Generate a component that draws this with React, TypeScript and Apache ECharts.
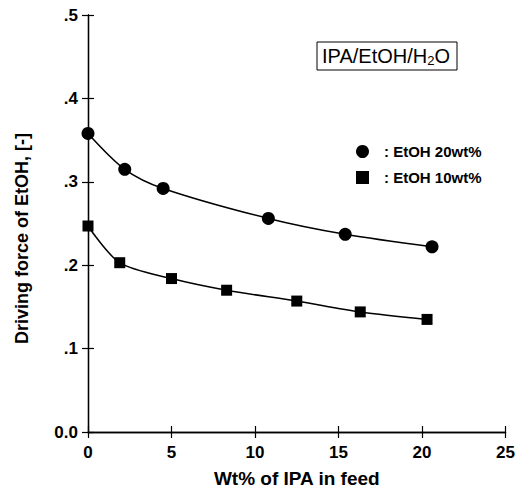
import React, { useEffect, useRef } from "react";
import * as echarts from "echarts";

const ipa20 = [0, 2.2, 4.5, 10.8, 15.4, 20.6];
const force20 = [0.358, 0.315, 0.292, 0.256, 0.237, 0.222];
const ipa10 = [0, 1.9, 5.0, 8.3, 12.5, 16.3, 20.3];
const force10 = [0.247, 0.203, 0.184, 0.17, 0.157, 0.144, 0.135];
const seriesNames = ["EtOH 20wt%", "EtOH 10wt%"];
const yTickLabels: Record<string, string> = { "0": "0.0", "0.1": ".1", "0.2": ".2", "0.3": ".3", "0.4": ".4", "0.5": ".5" };

const FONT = "'Liberation Sans', Arial, sans-serif";
const NARROW = "'Liberation Sans Narrow', 'Liberation Sans', Arial, sans-serif";

export default function App() {
  const ref = useRef<HTMLDivElement>(null);
  useEffect(() => {
    if (!ref.current) return;
    const chart = echarts.init(ref.current, undefined, { renderer: "svg" });
    const axisLine = { show: true, lineStyle: { color: "#000", width: 1.3 } };
    const tick = { show: true, inside: true, length: 6, lineStyle: { color: "#000", width: 1.2 } };
    chart.setOption({
      animation: false,
      backgroundColor: "#fff",
      graphic: [
        {
          type: "rect",
          shape: { x: 317, y: 42, width: 140, height: 28 },
          style: { fill: "#fff", stroke: "#000", lineWidth: 1 },
          z: 10,
        },
        {
          type: "text",
          x: 322,
          y: 56,
          z: 11,
          style: {
            text: "{a|IPA/EtOH/H}{s|2}{a|O}",
            verticalAlign: "middle",
            rich: {
              a: { fontFamily: FONT, fontSize: 20, fill: "#000", lineHeight: 24 },
              s: { fontFamily: FONT, fontSize: 13, fill: "#000", lineHeight: 24, padding: [9, 0, 0, 0] },
            },
          },
        },
      ],
      legend: {
        orient: "vertical",
        left: 351,
        top: 139,
        itemWidth: 13,
        itemHeight: 13,
        itemGap: 11,
        data: [
          { name: seriesNames[0], icon: "circle" },
          { name: seriesNames[1], icon: "rect" },
        ],
        formatter: (n: string) => ": " + n,
        textStyle: { fontFamily: FONT, fontSize: 15, fontWeight: "bold", color: "#000", padding: [0, 0, 0, 10] },
      },
      grid: { left: 88, top: 15, right: 12, bottom: 60 },
      xAxis: [
        {
          type: "value",
          min: 0,
          max: 25,
          interval: 5,
          name: "Wt% of IPA in feed",
          nameLocation: "middle",
          nameGap: 37,
          nameTextStyle: { fontFamily: FONT, fontSize: 19, fontWeight: "bold", color: "#000" },
          axisLine,
          axisTick: tick,
          axisLabel: { fontFamily: FONT, fontSize: 17, fontWeight: "bold", color: "#000", margin: 12 },
          splitLine: { show: false },
        },
        {
          type: "value",
          position: "top",
          min: 0,
          max: 25,
          interval: 5,
          axisLine,
          axisTick: tick,
          axisLabel: { show: false },
          splitLine: { show: false },
        },
      ],
      yAxis: [
        {
          type: "value",
          min: 0,
          max: 0.5,
          interval: 0.1,
          name: "Driving force of EtOH, [-]",
          nameLocation: "middle",
          nameGap: 57,
          nameTextStyle: { fontFamily: NARROW, fontSize: 18, fontWeight: "bold", color: "#000", padding: [0, 30, 0, 0] },
          axisLine,
          axisTick: tick,
          axisLabel: {
            fontFamily: FONT,
            fontSize: 17,
            fontWeight: "bold",
            color: "#000",
            margin: 10,
            formatter: (v: number) => yTickLabels[String(Math.round(v * 10) / 10)] ?? String(v),
          },
          splitLine: { show: false },
        },
        {
          type: "value",
          position: "right",
          min: 0,
          max: 0.5,
          interval: 0.1,
          axisLine,
          axisTick: tick,
          axisLabel: { show: false },
          splitLine: { show: false },
        },
      ],
      series: [
        {
          name: seriesNames[0],
          type: "line",
          data: ipa20.map((x, i) => [x, force20[i]]),
          smooth: 0.3,
          symbol: "circle",
          symbolSize: 13,
          itemStyle: { color: "#000" },
          lineStyle: { color: "#000", width: 1.5 },
        },
        {
          name: seriesNames[1],
          type: "line",
          data: ipa10.map((x, i) => [x, force10[i]]),
          smooth: 0.3,
          symbol: "rect",
          symbolSize: 11,
          itemStyle: { color: "#000" },
          lineStyle: { color: "#000", width: 1.5 },
        },
      ],
    });
    return () => chart.dispose();
  }, []);
  return <div ref={ref} style={{ width: 518, height: 493, position: "absolute", left: 0, top: 0 }} />;
}
